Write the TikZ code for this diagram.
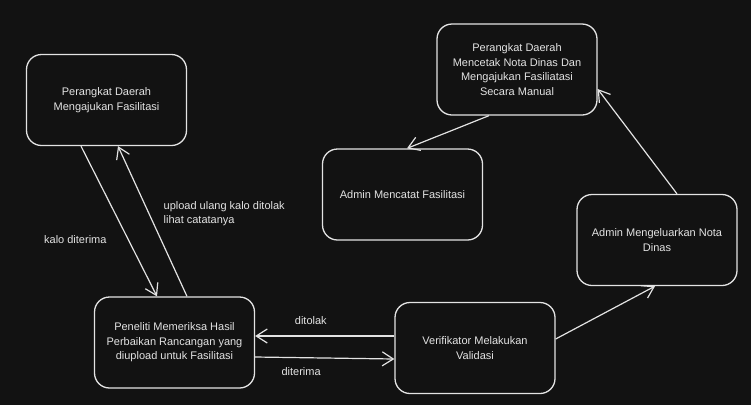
\documentclass[tikz,border=0pt]{standalone}
\usepackage{fontspec}
\setmainfont{Liberation Sans}
\usetikzlibrary{arrows.meta, positioning}
\definecolor{canvas}{HTML}{121212}
\definecolor{ink}{HTML}{E3E3E3}

\begin{document}
\begin{tikzpicture}[
  x=1pt, y=-1pt,
  box/.style={draw=ink,line width=1.3pt,rounded corners=15pt,align=center,minimum width=160pt,minimum height=91pt,text=ink,font=\fontsize{11}{14.5}\selectfont},
  lbl/.style={text=ink,font=\fontsize{11}{13.5}\selectfont,inner sep=2pt},
  arrow/.style={-{Straight Barb[length=11pt,width=14pt]},draw=ink,line width=1.2pt}
]
  \fill[canvas] (0,0) rectangle (751,405);
  \node[box] (pengaju) at (106.5,100) {Perangkat Daerah\\Mengajukan Fasilitasi};
  \node[box] (peneliti) at (174.5,342.5) {Peneliti Memeriksa Hasil\\Perbaikan Rancangan yang\\diupload untuk Fasilitasi};
  \node[box] (verif) at (475,348) {Verifikator Melakukan\\Validasi};
  \node[box] (nota) at (657,240) {Admin Mengeluarkan Nota\\Dinas};
  \node[box] (cetak) at (517,69.5) {Perangkat Daerah\\Mencetak Nota Dinas Dan\\Mengajukan Fasiliatasi\\Secara Manual};
  \node[box] (catat) at (402.5,194.5) {Admin Mencatat Fasilitasi};
  \draw[arrow] ([xshift=-25.5pt]pengaju.south) -- node[lbl,pos=0.62,left=19pt] (lblterima) {kalo diterima} ([xshift=-17.5pt]peneliti.north);
  \draw[arrow] ([xshift=12.5pt]peneliti.north) -- node[lbl,pos=0.55,right=12pt,align=left] (lblulang) {upload ulang kalo ditolak\\lihat catatanya} ([xshift=11.5pt]pengaju.south);
  \draw[arrow] ([yshift=12pt]verif.west) -- node[lbl,pos=0.6,above=9pt] (lbltolak) {ditolak} ([yshift=6.5pt]peneliti.east);
  \draw[arrow] ([yshift=-14.5pt]peneliti.east) -- node[lbl,pos=0.33,below=7pt] (lblditerima) {diterima} ([yshift=-11pt]verif.west);
  \draw[arrow] ([yshift=9pt]verif.east) -- ([xshift=-2pt]nota.south);
  \draw[arrow] ([xshift=20pt]nota.north) -- ([yshift=-19.5pt]cetak.east);
  \draw[arrow] ([xshift=-28pt]cetak.south) -- ([xshift=4.5pt]catat.north);
\end{tikzpicture}
\end{document}
